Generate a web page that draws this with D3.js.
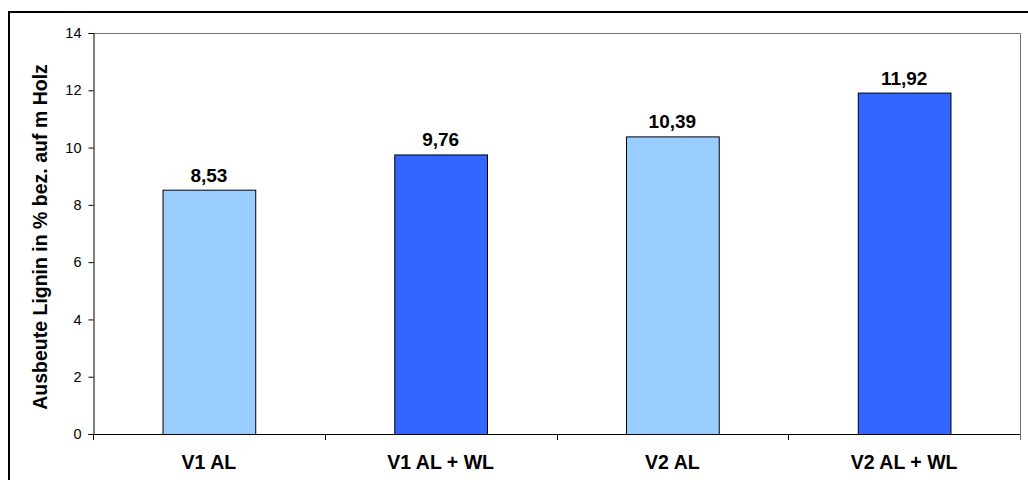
<!DOCTYPE html>
<html><head><meta charset="utf-8">
<script src="https://cdn.jsdelivr.net/npm/d3@7"></script>
<style>body{margin:0;background:#fff}svg{display:block}text{font-family:Arial,"Liberation Sans",sans-serif}</style>
</head><body>
<svg id="c" width="1028" height="480"></svg>
<script>
const categories = ["V1 AL", "V1 AL + WL", "V2 AL", "V2 AL + WL"];
const values = [8.53, 9.76, 10.39, 11.92];
const valueLabels = ["8,53", "9,76", "10,39", "11,92"];
const yTicks = [0, 2, 4, 6, 8, 10, 12, 14];
const barColors = ["#99CCFF", "#3366FF", "#99CCFF", "#3366FF"];
const yTitle = "Ausbeute Lignin in % bez. auf m Holz";

const svg = d3.select("#c");
const L = 93, R = 1020, T = 33, B = 434;
const x = d3.scaleBand().domain(categories).range([L, R]).paddingInner(0).paddingOuter(0);
const y = d3.scaleLinear().domain([0, 14]).range([B, T]);

// outer chart border
svg.append("line").attr("x1", 9).attr("x2", 1028).attr("y1", 12).attr("y2", 12).attr("stroke", "#000").attr("stroke-width", 2);
svg.append("line").attr("x1", 9).attr("x2", 9).attr("y1", 11).attr("y2", 480).attr("stroke", "#000").attr("stroke-width", 2);

// plot area border (top, right)
svg.append("path").attr("d", `M${L},${T + 0.5}H${R + 0.5}V${B}`).attr("fill", "none").attr("stroke", "#707070").attr("stroke-width", 1);

// bars
const bw = x.bandwidth() * 0.4;
svg.selectAll("rect.bar").data(values).enter().append("rect")
  .attr("x", (d, i) => x(categories[i]) + x.bandwidth() / 2 - bw / 2 + 0.5)
  .attr("y", d => y(d) + 0.5)
  .attr("width", bw)
  .attr("height", d => B - y(d))
  .attr("fill", (d, i) => barColors[i])
  .attr("stroke", "#000").attr("stroke-width", 1);

// value labels
svg.selectAll("text.val").data(values).enter().append("text")
  .attr("x", (d, i) => x(categories[i]) + x.bandwidth() / 2)
  .attr("y", d => y(d) - 8)
  .attr("text-anchor", "middle").attr("font-size", 19).attr("font-weight", "bold")
  .text((d, i) => valueLabels[i]);

// y axis
const ya = svg.append("g").attr("transform", `translate(${L + 0.5},0)`)
  .call(d3.axisLeft(y).tickValues(yTicks).tickSize(5).tickPadding(7).tickFormat(d3.format("d")));
ya.select(".domain").attr("stroke", "#000");
ya.selectAll("text").attr("font-size", 14.5).attr("font-family", "Arial, 'Liberation Sans', sans-serif").attr("fill", "#000");

// x axis
const xa = svg.append("g").attr("transform", `translate(0,${B + 0.5})`)
  .call(d3.axisBottom(x).tickSize(0).tickPadding(0).tickFormat(() => ""));
xa.select(".domain").attr("d", `M${L},0H${R + 0.5}`).attr("stroke", "#000");
const bounds = categories.map(c => x(c)).concat([R]);
svg.selectAll("line.xt").data(bounds).enter().append("line")
  .attr("x1", d => Math.round(d) + 0.5).attr("x2", d => Math.round(d) + 0.5)
  .attr("y1", B).attr("y2", B + 6).attr("stroke", (d, i) => i === bounds.length - 1 ? "#707070" : "#000");
svg.selectAll("text.xl").data(categories).enter().append("text")
  .attr("x", d => x(d) + x.bandwidth() / 2).attr("y", 469)
  .attr("text-anchor", "middle").attr("font-size", 19.5).attr("font-weight", "bold")
  .text(d => d);

// y title
svg.append("text").attr("transform", `translate(47,237) rotate(-90)`)
  .attr("text-anchor", "middle").attr("font-size", 19.5).attr("font-weight", "bold")
  .text(yTitle);
</script>
</body></html>
